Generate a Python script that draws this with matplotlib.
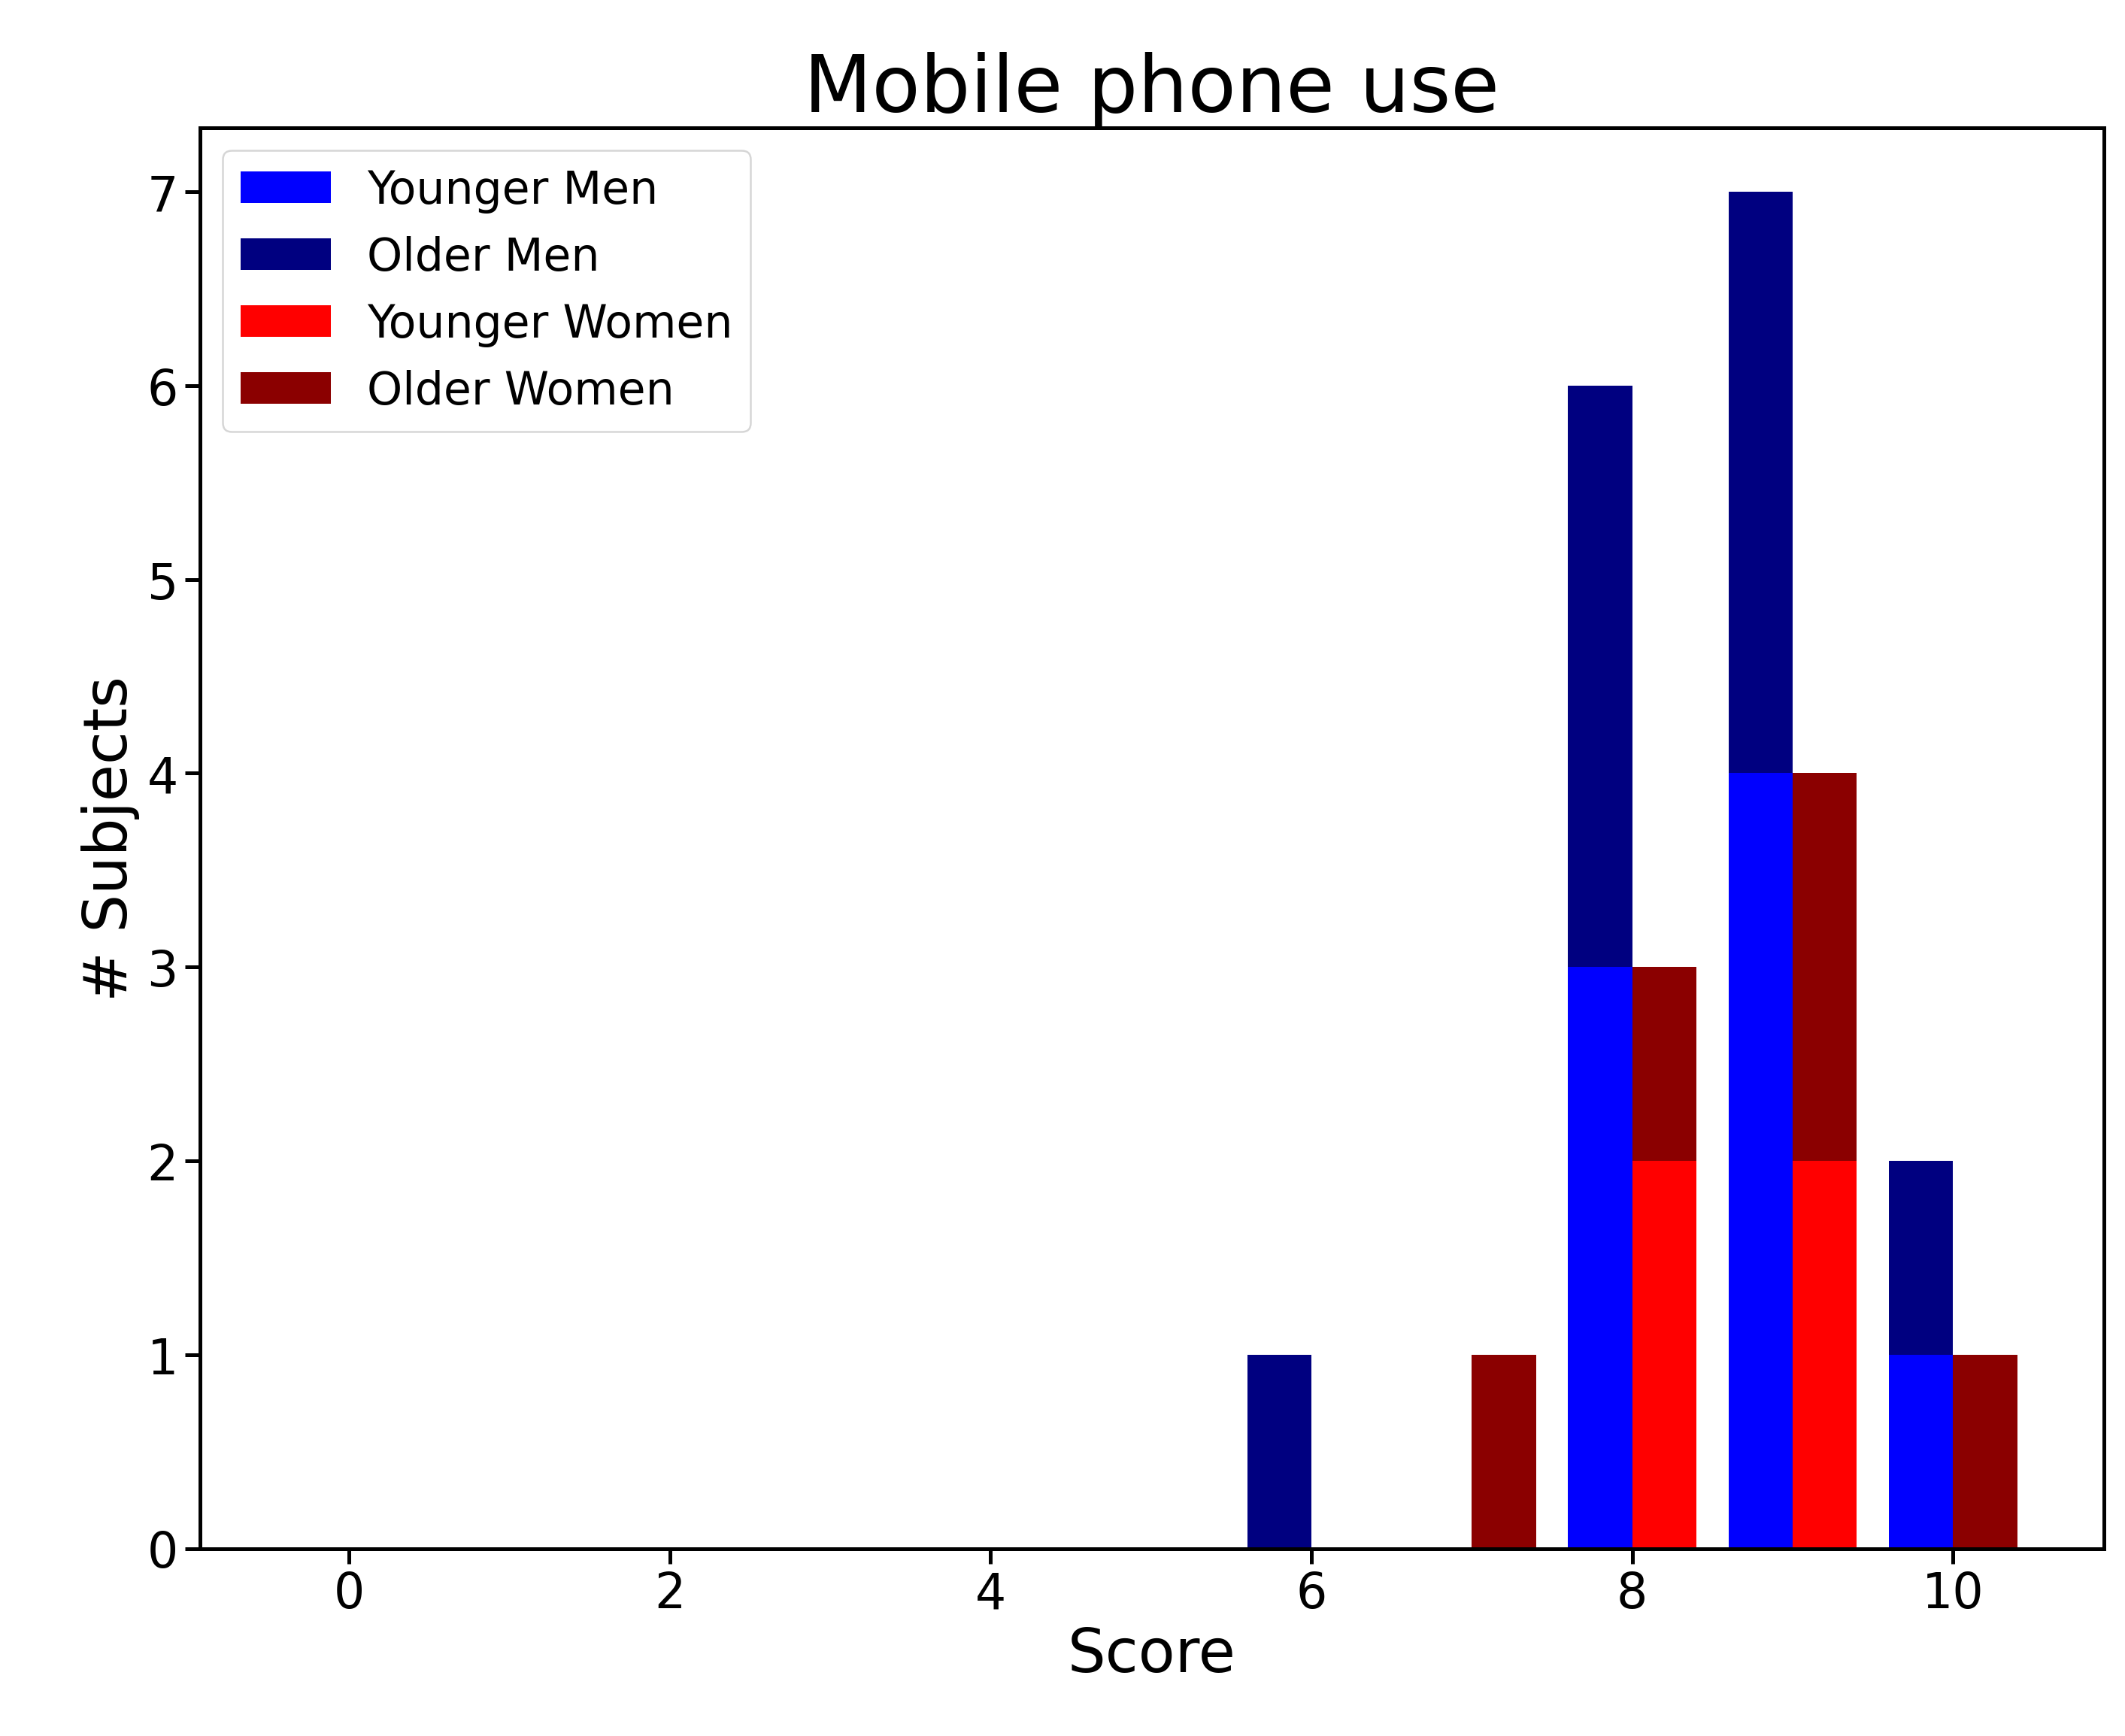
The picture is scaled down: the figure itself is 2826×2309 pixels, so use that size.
import numpy as np
import matplotlib.pyplot as plt

scores = np.arange(0, 11)
younger_men = [0, 0, 0, 0, 0, 0, 0, 0, 3, 4, 1]
older_men = [0, 0, 0, 0, 0, 0, 1, 0, 3, 3, 1]
younger_women = [0, 0, 0, 0, 0, 0, 0, 0, 2, 2, 0]
older_women = [0, 0, 0, 0, 0, 0, 0, 1, 1, 2, 1]

fig = plt.figure(figsize=(15.7, 12.833), dpi=180)
ax = fig.add_axes([0.094, 0.108, 0.896, 0.818])

w = 0.4
ax.bar(scores, younger_men, width=-w, align='edge', color='blue', label='Younger Men')
ax.bar(scores, older_men, width=-w, align='edge', bottom=younger_men, color='navy', label='Older Men')
ax.bar(scores, younger_women, width=w, align='edge', color='red', label='Younger Women')
ax.bar(scores, older_women, width=w, align='edge', bottom=younger_women, color='darkred', label='Older Women')

ax.set_xlim(-0.93, 10.94)
ax.set_ylim(0, 7.33)
ax.set_xticks([0, 2, 4, 6, 8, 10])
ax.tick_params(labelsize=26, width=2, length=8)
for s in ax.spines.values():
    s.set_linewidth(2)
ax.set_xlabel('Score', fontsize=32)
ax.set_ylabel('# Subjects', fontsize=32)
ax.set_title('Mobile phone use', fontsize=42)
ax.legend(loc='upper left', fontsize=24)

fig.savefig('out.png')
